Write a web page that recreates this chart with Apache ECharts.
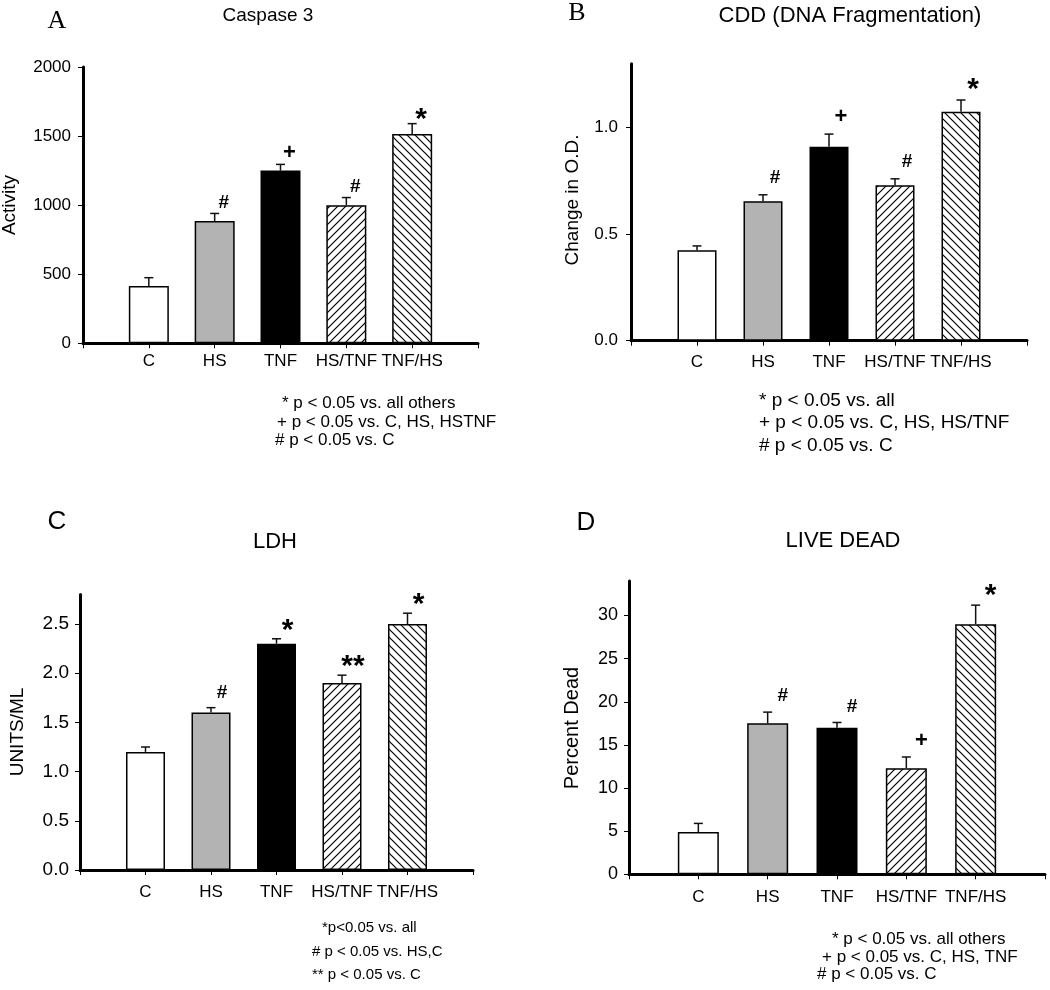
<!DOCTYPE html>
<html><head><meta charset="utf-8">
<script src="https://cdn.jsdelivr.net/npm/echarts@6/dist/echarts.min.js"></script>
<style>html,body{margin:0;padding:0;background:#fff}#c{width:1050px;height:990px}</style>
</head><body><div id="c"></div>
<script>
// ---------------- data ----------------
const categories = ['C', 'HS', 'TNF', 'HS/TNF', 'TNF/HS'];

const caspaseValues = [415, 885, 1250, 1000, 1515];
const caspaseErr    = [60, 55, 45, 55, 75];
const caspaseMarks  = ['', '#', '+', '#', '*'];
const caspaseTicks  = [0, 500, 1000, 1500, 2000];

const cddValues = [0.425, 0.655, 0.91, 0.73, 1.075];
const cddErr    = [0.02, 0.03, 0.06, 0.03, 0.055];
const cddMarks  = ['', '#', '+', '#', '*'];
const cddTicks  = [0, 0.5, 1.0];

const ldhValues = [1.2, 1.6, 2.3, 1.9, 2.5];
const ldhErr    = [0.05, 0.05, 0.05, 0.08, 0.11];
const ldhMarks  = ['', '#', '*', '**', '*'];
const ldhTicks  = [0, 0.5, 1.0, 1.5, 2.0, 2.5];

const liveDeadValues = [4.9, 17.5, 17.0, 12.3, 29.0];
const liveDeadErr    = [1.0, 1.3, 0.6, 1.3, 2.2];
const liveDeadMarks  = ['', '#', '#', '+', '*'];
const liveDeadTicks  = [0, 5, 10, 15, 20, 25, 30];

const notesA = ['* p < 0.05 vs. all others', '+ p < 0.05 vs. C, HS, HSTNF', '# p < 0.05 vs. C'];
const notesB = ['* p < 0.05 vs. all', '+ p < 0.05 vs. C, HS, HS/TNF', '# p < 0.05 vs. C'];
const notesC = ['*p<0.05 vs. all', '# p < 0.05 vs. HS,C', '** p < 0.05 vs. C'];
const notesD = ['* p < 0.05 vs. all others', '+ p < 0.05 vs. C, HS, TNF', '# p < 0.05 vs. C'];

// ---------------- styles ----------------
const SANS = 'Liberation Sans, Arial, sans-serif';
const SERIF = 'Liberation Serif, Times New Roman, serif';

function hatch(forward) {
  const c = document.createElement('canvas');
  c.width = 8; c.height = 8;
  const g = c.getContext('2d');
  g.fillStyle = '#fff'; g.fillRect(0, 0, 8, 8);
  g.strokeStyle = '#000'; g.lineWidth = 1.2;
  g.beginPath();
  if (forward) {
    g.moveTo(-2, 10); g.lineTo(10, -2);
    g.moveTo(-2, 2); g.lineTo(2, -2);
    g.moveTo(6, 10); g.lineTo(10, 6);
  } else {
    g.moveTo(-2, -2); g.lineTo(10, 10);
    g.moveTo(-2, 6); g.lineTo(2, 10);
    g.moveTo(6, -2); g.lineTo(10, 2);
  }
  g.stroke();
  return { image: c, repeat: 'repeat' };
}
const fills = ['#ffffff', '#b3b3b3', '#000000', hatch(true), hatch(false)];

const panels = [
  { vals: caspaseValues, err: caspaseErr, marks: caspaseMarks, ticks: caspaseTicks, max: 2000, dec: 0,
    grid: { left: 83, top: 67, width: 395, height: 276.3 }, barW: 40, xMargin: 10, yFont: 17, yMargin: 12,
    dx: 9, dy: -11 },
  { vals: cddValues, err: cddErr, marks: cddMarks, ticks: cddTicks, max: 1.3, dec: 1,
    grid: { left: 631, top: 63.8, width: 396, height: 276.9 }, barW: 39, xMargin: 13, yFont: 17, yMargin: 13,
    dx: 12, dy: -17 },
  { vals: ldhValues, err: ldhErr, marks: ldhMarks, ticks: ldhTicks, max: 2.8, dec: 1,
    grid: { left: 80, top: 594.5, width: 393, height: 275.5 }, barW: 39, xMargin: 14, yFont: 19, yMargin: 11,
    dx: 11, dy: -15 },
  { vals: liveDeadValues, err: liveDeadErr, marks: liveDeadMarks, ticks: liveDeadTicks, max: 34, dec: 0,
    grid: { left: 629, top: 581, width: 416, height: 293.3 }, barW: 41, xMargin: 15, yFont: 18, yMargin: 11,
    dx: 15, dy: -16 }
];

const grids = [], xAxes = [], yAxes = [], series = [];
panels.forEach((p, k) => {
  grids.push(Object.assign({ containLabel: false }, p.grid));
  xAxes.push({
    type: 'category', gridIndex: k, data: ['', ...categories, ''], boundaryGap: false,
    axisLine: { show: true, lineStyle: { color: '#000', width: 3 } },
    axisTick: { show: true, interval: 0, length: 5, lineStyle: { color: '#000', width: 1 } },
    axisLabel: { interval: 0, margin: p.xMargin, color: '#000', fontSize: 17, fontFamily: SANS },
    splitLine: { show: false }
  });
  yAxes.push({
    type: 'value', gridIndex: k, min: 0, max: p.max,
    interval: p.ticks[1] - p.ticks[0],
    axisLine: { show: true, lineStyle: { color: '#000', width: 3 } },
    axisTick: { show: true, length: 5, customValues: p.ticks, lineStyle: { color: '#000', width: 1 } },
    axisLabel: { customValues: p.ticks, margin: p.yMargin, color: '#000', fontSize: p.yFont, fontFamily: SANS,
      formatter: v => Number(v).toFixed(p.dec) },
    splitLine: { show: false }
  });
  series.push({
    type: 'bar', xAxisIndex: k, yAxisIndex: k, barWidth: p.barW, z: 2, animation: false,
    data: p.vals.map((v, i) => ({ value: [i + 1, v],
      itemStyle: { color: fills[i], borderColor: '#000', borderWidth: 1.5 } }))
  });
  series.push({
    type: 'custom', xAxisIndex: k, yAxisIndex: k, z: 3, animation: false, silent: true,
    encode: { x: 0, y: [1, 2] },
    data: p.vals.map((v, i) => [i + 1, v, v + p.err[i]]),
    renderItem: (params, api) => {
      const x = api.value(0);
      const a = api.coord([x, api.value(1)]);
      const b = api.coord([x, api.value(2)]);
      const st = { stroke: '#111', lineWidth: 1.5 };
      return { type: 'group', children: [
        { type: 'line', shape: { x1: a[0], y1: a[1], x2: b[0], y2: b[1] }, style: st },
        { type: 'line', shape: { x1: b[0] - 4.5, y1: b[1], x2: b[0] + 4.5, y2: b[1] }, style: st }
      ] };
    }
  });
  series.push({
    type: 'custom', xAxisIndex: k, yAxisIndex: k, z: 4, animation: false, silent: true,
    encode: { x: 0, y: 1 },
    data: p.vals.map((v, i) => [i + 1, v + p.err[i]]),
    renderItem: (params, api) => {
      const t = p.marks[params.dataIndex];
      if (!t) return null;
      const c = api.coord([api.value(0), api.value(1)]);
      const star = t.indexOf('*') >= 0;
      const size = star ? 30 : (t === '+' ? 22 : 19);
      return { type: 'text', x: c[0] + p.dx, y: c[1] + p.dy + (star ? 7 : 0),
        style: { text: t, fontSize: size, fontWeight: 'bold', fontFamily: SANS, fill: '#000',
          align: 'center', verticalAlign: 'middle', textAlign: 'center', textVerticalAlign: 'middle' } };
    }
  });
});

function txt(text, x, y, size, opts) {
  opts = opts || {};
  return { type: 'text', x: x, y: y, rotation: opts.rot || 0, silent: true,
    style: { text: text, fontSize: size, fontFamily: opts.family || SANS, fontWeight: opts.weight || 'normal',
      fill: opts.fill || '#000',
      align: opts.align || 'center', verticalAlign: 'middle',
      textAlign: opts.align || 'center', textVerticalAlign: 'middle' } };
}

const graphics = [
  txt('A', 57, 21, 26, { family: SERIF }),
  txt('B', 577, 13, 26, { family: SERIF }),
  txt('C', 57, 522, 26),
  txt('D', 586, 523, 26),
  txt('Caspase 3', 268, 16, 19),
  txt('CDD (DNA Fragmentation)', 850, 16, 22),
  txt('LDH', 275, 542, 22),
  txt('LIVE DEAD', 843, 541, 22),
  txt('Activity', 10, 205, 19, { rot: Math.PI / 2 }),
  txt('Change in O.D.', 573, 200, 19, { rot: Math.PI / 2 }),
  txt('UNITS/ML', 18, 732, 19, { rot: Math.PI / 2 }),
  txt('Percent Dead', 572, 728, 20, { rot: Math.PI / 2 })
];
const noteLayout = [
  { notes: notesA, xs: [282, 277, 275], ys: [403, 422, 440], size: 17 },
  { notes: notesB, xs: [759, 759, 759], ys: [401, 423, 446], size: 19 },
  { notes: notesC, xs: [322, 312, 312], ys: [928, 952, 975], size: 15 },
  { notes: notesD, xs: [832, 822, 817], ys: [939, 957, 974], size: 17 }
];
noteLayout.forEach(n => n.notes.forEach((s, i) => graphics.push(txt(s, n.xs[i], n.ys[i], n.size, { align: 'left' }))));

const chart = echarts.init(document.getElementById('c'), null, { renderer: 'canvas' });
chart.setOption({
  backgroundColor: '#fff',
  animation: false,
  grid: grids, xAxis: xAxes, yAxis: yAxes, series: series,
  graphic: { elements: graphics }
});
</script>
</body></html>
